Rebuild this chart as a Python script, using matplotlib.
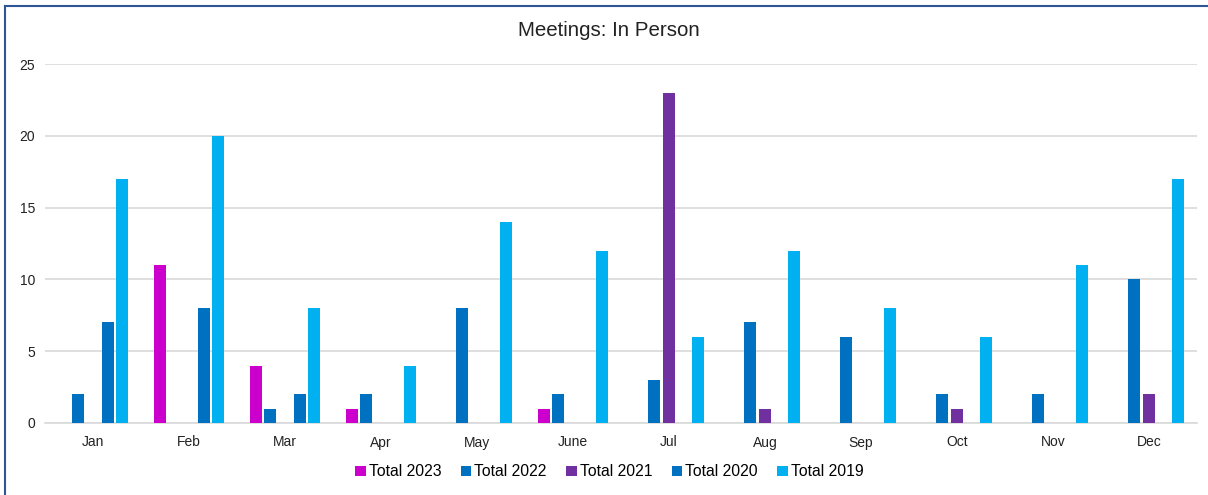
import numpy as np
import matplotlib.pyplot as plt
from matplotlib.lines import Line2D

months = ["Jan", "Feb", "Mar", "Apr", "May", "June", "Jul", "Aug", "Sep", "Oct", "Nov", "Dec"]

total_2023 = [0, 11, 4, 1, 0, 1, 0, 0, 0, 0, 0, 0]
total_2022 = [2, 0, 1, 2, 8, 2, 3, 7, 6, 2, 2, 10]
total_2021 = [0, 0, 0, 0, 0, 0, 23, 1, 0, 1, 0, 2]
total_2020 = [7, 8, 2, 0, 0, 0, 0, 0, 0, 0, 0, 0]
total_2019 = [17, 20, 8, 4, 14, 12, 6, 12, 8, 6, 11, 17]

series_names = ["Total 2023", "Total 2022", "Total 2021", "Total 2020", "Total 2019"]
series_vals = [total_2023, total_2022, total_2021, total_2020, total_2019]
colors = ["#CC00CC", "#0070C0", "#7030A0", "#0070C0", "#00B0F0"]

plt.rcParams["font.family"] = ["Liberation Sans", "DejaVu Sans"]

fig = plt.figure(figsize=(12.08, 4.95), dpi=100)
ax = fig.add_axes([45 / 1208, 1 - 423 / 495, (1197 - 45) / 1208, (423 - 64) / 495])

x = np.arange(len(months))
step = 0.152
width = 0.125
for i, (name, vals, c) in enumerate(zip(series_names, series_vals, colors)):
    ax.bar(x + (i - 2) * step, vals, width=width, color=c, label=name, zorder=3)

ax.set_xlim(-0.5, 11.5)
ax.set_ylim(0, 25)
ax.set_yticks(range(0, 26, 5))
ax.set_xticks(x)
ax.set_xticklabels(months)
ax.yaxis.grid(True, color="#D9D9D9", linewidth=1.2, zorder=0)
for s in ["top", "right", "left"]:
    ax.spines[s].set_visible(False)
ax.spines["bottom"].set_color("#D9D9D9")
ax.spines["bottom"].set_linewidth(1.2)
ax.tick_params(axis="both", length=0, labelsize=10, colors="#222222")
ax.tick_params(axis="x", pad=9)
ax.tick_params(axis="y", pad=7)

fig.text(0.504, 1 - 31 / 495, "Meetings: In Person", ha="center", va="center",
         fontsize=14.8, color="#222222")

ax.legend(loc="center", bbox_to_anchor=(0.49, (423 - 472) / (423 - 64)), ncol=5,
          frameon=False, fontsize=11.3, handlelength=0.65, handleheight=0.65,
          handletextpad=0.2, columnspacing=1.25)

fig.add_artist(Line2D([5 / 1208, 1], [1 - 6 / 495, 1 - 6 / 495],
                      transform=fig.transFigure, color="#2F5597", linewidth=1.5))
fig.add_artist(Line2D([5 / 1208, 5 / 1208], [0, 1 - 6 / 495],
                      transform=fig.transFigure, color="#2F5597", linewidth=1.5))

fig.savefig("out.png", dpi=100)
